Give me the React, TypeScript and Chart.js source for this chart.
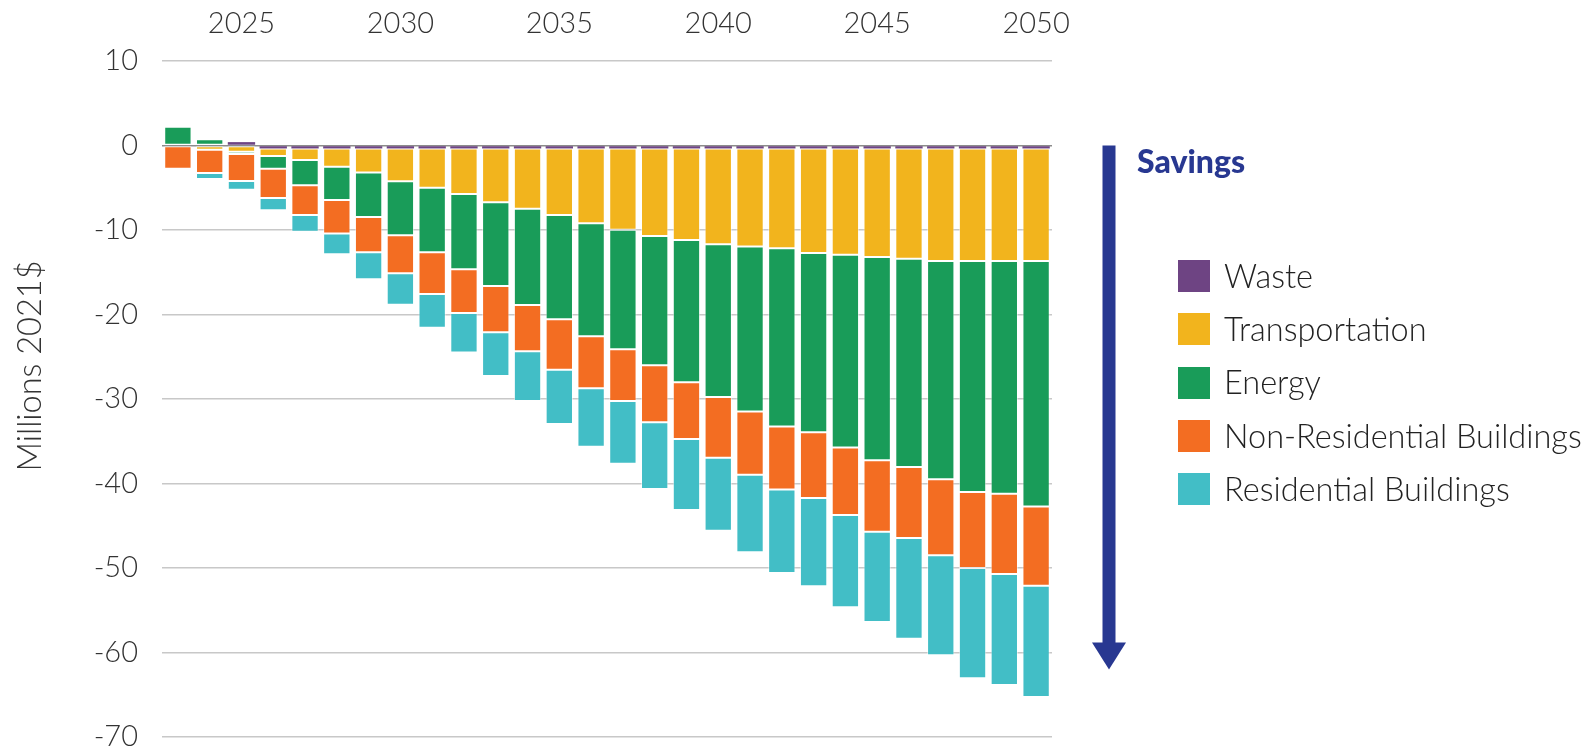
import React, { useEffect, useRef } from "react";
import { Chart, registerables } from "chart.js";

Chart.register(...registerables);

// Years shown as stacked bars (one bar per year)
const years = [
  "2023", "2024", "2025", "2026", "2027", "2028", "2029", "2030", "2031", "2032",
  "2033", "2034", "2035", "2036", "2037", "2038", "2039", "2040", "2041", "2042",
  "2043", "2044", "2045", "2046", "2047", "2048", "2049", "2050",
];

// Annual cost (negative = savings), millions 2021$
const waste = [
  0, 0, 0.4, -0.35, -0.35, -0.35, -0.35, -0.35, -0.35, -0.35,
  -0.35, -0.35, -0.35, -0.35, -0.35, -0.35, -0.35, -0.35, -0.35, -0.35,
  -0.35, -0.35, -0.35, -0.35, -0.35, -0.35, -0.35, -0.35,
];
const transportation = [
  0, -0.5, -0.73, -0.9, -1.37, -2.15, -2.86, -3.89, -4.64, -5.39,
  -6.38, -7.13, -7.87, -8.86, -9.61, -10.36, -10.83, -11.35, -11.6, -11.81,
  -12.37, -12.58, -12.84, -13.06, -13.32, -13.32, -13.32, -13.32,
];
const energy = [
  2.23, 0.73, -0.27, -1.49, -2.99, -3.95, -5.25, -6.39, -7.65, -8.9,
  -9.9, -11.4, -12.35, -13.37, -14.16, -15.31, -16.85, -18.06, -19.52, -21.09,
  -21.22, -22.82, -24.07, -24.63, -25.83, -27.33, -27.55, -29.05,
];
const nonResidential = [
  -2.74, -2.75, -3.2, -3.46, -3.51, -3.95, -4.18, -4.5, -4.93, -5.18,
  -5.48, -5.48, -5.96, -6.16, -6.12, -6.74, -6.7, -7.18, -7.48, -7.47,
  -7.77, -7.99, -8.46, -8.41, -8.98, -8.99, -9.5, -9.38,
];
const residential = [
  0.2, -0.71, -1.03, -1.47, -1.98, -2.48, -3.2, -3.71, -3.99, -4.69,
  -5.17, -5.88, -6.43, -6.9, -7.41, -7.89, -8.41, -8.64, -9.19, -9.88,
  -10.44, -10.91, -10.66, -11.91, -11.86, -13.07, -13.12, -13.17,
];

const seriesNames = [
  "Waste",
  "Transportation",
  "Energy",
  "Non-Residential Buildings",
  "Residential Buildings",
];
const seriesColors = ["#6E4483", "#F2B41D", "#199C59", "#F36D22", "#42BEC6"];

const yMin = -70;
const yMax = 10;
const yStep = 10;
const yTitle = "Millions 2021$";
const savingsLabel = "Savings";
const savingsArrowEnd = -62;

const FONT = "Lato, 'Open Sans', 'Noto Sans', sans-serif";
const TEXT = "#333333";
const NAVY = "#283891";

const W = 1591;
const H = 748;

// Y title and the downward "savings" arrow beside the plot
const decorations = {
  id: "decorations",
  afterDraw(chart: any) {
    const { ctx, chartArea, scales } = chart;
    const y = scales.y;
    ctx.save();

    // rotated axis title
    ctx.fillStyle = TEXT;
    ctx.font = `300 32.5px ${FONT}`;
    ctx.textAlign = "center";
    ctx.textBaseline = "middle";
    ctx.translate(31, 366);
    ctx.rotate(-Math.PI / 2);
    ctx.fillText(yTitle, 0, 0);
    ctx.setTransform(1, 0, 0, 1, 0, 0);

    // arrow
    const cx = chartArea.right + 57;
    const top = y.getPixelForValue(0);
    const tip = y.getPixelForValue(savingsArrowEnd);
    const headH = 27;
    const shaftW = 13;
    const headW = 34;
    ctx.fillStyle = NAVY;
    ctx.fillRect(cx - shaftW / 2, top, shaftW, tip - headH - top + 1);
    ctx.beginPath();
    ctx.moveTo(cx - headW / 2, tip - headH);
    ctx.lineTo(cx + headW / 2, tip - headH);
    ctx.lineTo(cx, tip);
    ctx.closePath();
    ctx.fill();
    ctx.restore();
  },
};

export default function App() {
  const canvasRef = useRef<HTMLCanvasElement | null>(null);

  useEffect(() => {
    if (!canvasRef.current) return;
    const seriesValues = [waste, transportation, energy, nonResidential, residential];
    const chart = new Chart(canvasRef.current, {
      type: "bar",
      data: {
        labels: years,
        datasets: seriesNames.map((name, i) => ({
          label: name,
          data: seriesValues[i],
          backgroundColor: seriesColors[i],
          borderColor: "rgba(255,255,255,0.5)",
          borderWidth: i === 0 ? 0 : 1,
          borderSkipped: false,
          barPercentage: 0.86,
          categoryPercentage: 1.0,
        })),
      },
      options: {
        responsive: false,
        animation: false,
        layout: { padding: { left: 0, right: W - 1052, top: 0, bottom: H - 737 } },
        plugins: {
          legend: { display: false },
          tooltip: { enabled: false },
        },
        scales: {
          x: {
            position: "top",
            stacked: true,
            grid: { display: false, drawTicks: false },
            border: { display: false },
            ticks: {
              autoSkip: false,
              maxRotation: 0,
              padding: 20,
              color: TEXT,
              font: { family: FONT, size: 29, weight: "300" as any },
              callback: (_v: any, i: number) =>
                Number(years[i]) % 5 === 0 ? years[i] : "",
            },
            afterFit: (scale: any) => {
              scale.height = 61;
            },
          },
          y: {
            stacked: true,
            min: yMin,
            max: yMax,
            grid: {
              drawTicks: false,
              lineWidth: 1.5,
              color: (c: any) => (c.tick && c.tick.value === 0 ? "#8c8c8c" : "#c8c8c8"),
            },
            border: { display: false },
            ticks: {
              stepSize: yStep,
              padding: 24,
              color: TEXT,
              font: { family: FONT, size: 29, weight: "300" as any },
            },
            afterFit: (scale: any) => {
              scale.width = 162;
              scale.paddingTop = 0;
              scale.paddingBottom = 0;
            },
          },
        },
      },
      plugins: [decorations],
    });
    return () => chart.destroy();
  }, []);

  return (
    <div
      style={{
        position: "fixed",
        left: 0,
        top: 0,
        width: W,
        height: H,
        background: "#ffffff",
        overflow: "hidden",
      }}
    >
      <canvas
        ref={canvasRef}
        width={W}
        height={H}
        style={{ width: W, height: H, display: "block" }}
      />
      <div
        style={{
          position: "absolute",
          left: 1137,
          top: 145,
          fontFamily: FONT,
          fontWeight: 900,
          fontSize: 32,
          lineHeight: 1,
          color: NAVY,
          whiteSpace: "nowrap",
        }}
      >
        {savingsLabel}
      </div>
      <div
        style={{
          position: "absolute",
          left: 1178,
          top: 260,
          display: "flex",
          flexDirection: "column",
          gap: 21.25,
        }}
      >
        {seriesNames.map((name, i) => (
          <div key={name} style={{ display: "flex", alignItems: "center", height: 32 }}>
            <div style={{ width: 32, height: 32, background: seriesColors[i], flex: "none" }} />
            <div
              style={{
                marginLeft: 14,
                fontFamily: FONT,
                fontWeight: 300,
                fontSize: 32.5,
                lineHeight: 1,
                color: "#222222",
                whiteSpace: "nowrap",
              }}
            >
              {name}
            </div>
          </div>
        ))}
      </div>
    </div>
  );
}
